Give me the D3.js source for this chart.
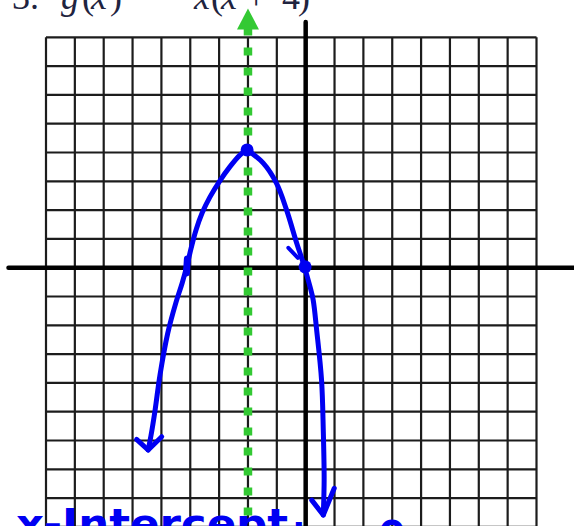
<!DOCTYPE html>
<html>
<head>
<meta charset="utf-8">
<script src="https://cdn.jsdelivr.net/npm/d3@7"></script>
<style>
  html, body { margin: 0; padding: 0; background: #fff; }
  svg { display: block; }
</style>
</head>
<body>
<svg id="chart" width="574" height="526"></svg>
<script>
// Graph-paper grid lines (unit steps)
const gridX = d3.range(-9, 9);
const gridY = d3.range(-9, 9);

// Axis extents in graph units
const xAxisSpan = [-10.3, 9.6];
const yAxisSpan = [-9.5, 8.53];

// Axis of symmetry x = -2
const symmetryX = -2;
const symmetrySpan = [-9.5, 9.0];

// Sketched parabola for g(x) = -x(x + 4), two branches from the vertex
const leftX  = [-2.03, -2.28, -2.63, -2.98, -3.32, -3.59, -3.80, -3.97, -4.11, -4.28, -4.50, -4.78, -5.05, -5.22, -5.36, -5.46];
const leftY  = [ 4.09,  3.91,  3.50,  3.01,  2.45,  1.90,  1.31,  0.68,  0.09, -0.53, -1.22, -2.27, -3.73, -4.95, -5.82, -6.33];
const rightX = [-2.03, -1.47, -1.01, -0.66, -0.31, -0.08, 0.15, 0.26, 0.38, 0.55, 0.61, 0.64, 0.61];
const rightY = [ 4.09,  3.63,  2.93,  2.00,  0.85,  0.15, -0.66, -1.12, -2.16, -3.90, -5.64, -7.37, -8.59];

// Arrowheads at the branch ends: [arm, tip, arm]
const leftArrowX  = [-5.86, -5.46, -4.99];
const leftArrowY  = [-5.96, -6.33, -5.87];
const rightArrowX = [0.21, 0.61, 0.99];
const rightArrowY = [-8.07, -8.59, -7.66];

// Marked points: vertex and the right x-intercept
const dotX = [-2.03, -0.02];
const dotY = [ 4.09,  0.03];
// Left x-intercept mark and the small pen tick on the right branch
const leftMarkX = [-4.10, -4.13];
const leftMarkY = [ 0.30, -0.18];
const tickX = [-0.60, -0.27];
const tickY = [ 0.69,  0.34];

const blue = "#0000f2";
const green = "#33c933";

const svg = d3.select("#chart");
const x = d3.scaleLinear().domain([-9, 8]).range([46, 536.5]);
const y = d3.scaleLinear().domain([-9, 8]).range([526.9, 37.3]);

// Grid
const grid = svg.append("g").attr("stroke", "#1c1c1c").attr("stroke-width", 2.2);
grid.selectAll("line.v").data(gridX).join("line")
  .attr("class", "v")
  .attr("x1", d => x(d)).attr("x2", d => x(d))
  .attr("y1", y(8)).attr("y2", y(-9.5));
grid.selectAll("line.h").data(gridY).join("line")
  .attr("class", "h")
  .attr("x1", x(-9)).attr("x2", x(8))
  .attr("y1", d => y(d)).attr("y2", d => y(d));

// Coordinate axes
svg.append("line")
  .attr("x1", x(xAxisSpan[0])).attr("x2", x(xAxisSpan[1]))
  .attr("y1", y(0)).attr("y2", y(0))
  .attr("stroke", "#000").attr("stroke-width", 4.5).attr("stroke-linecap", "round");
svg.append("line")
  .attr("x1", x(0)).attr("x2", x(0))
  .attr("y1", y(yAxisSpan[1])).attr("y2", y(yAxisSpan[0]))
  .attr("stroke", "#000").attr("stroke-width", 4.5).attr("stroke-linecap", "round");

// Dashed axis of symmetry with arrow on top
const sx = x(symmetryX);
const tipY = y(symmetrySpan[1]);
svg.append("line")
  .attr("x1", sx).attr("x2", sx)
  .attr("y1", tipY + 19).attr("y2", y(symmetrySpan[0]))
  .attr("stroke", green).attr("stroke-width", 8.5)
  .attr("stroke-dasharray", "8,12");
svg.append("path")
  .attr("d", `M${sx},${tipY} L${sx + 11},${tipY + 21} L${sx - 11},${tipY + 21} Z`)
  .attr("fill", green);

// Parabola sketch
const line = d3.line().x(d => x(d[0])).y(d => y(d[1])).curve(d3.curveCatmullRom.alpha(0.5));
const pen = { stroke: blue, "stroke-width": 5, fill: "none", "stroke-linecap": "round", "stroke-linejoin": "round" };
function stroke(path) { Object.entries(pen).forEach(([k, v]) => path.attr(k, v)); return path; }

stroke(svg.append("path").attr("d", line(d3.zip(leftX, leftY))));
stroke(svg.append("path").attr("d", line(d3.zip(rightX, rightY))));

const straight = d3.line().x(d => x(d[0])).y(d => y(d[1]));
stroke(svg.append("path").attr("d", straight(d3.zip(leftArrowX, leftArrowY))));
stroke(svg.append("path").attr("d", straight(d3.zip(rightArrowX, rightArrowY))));
stroke(svg.append("path").attr("d", straight(d3.zip(tickX, tickY)))).attr("stroke-width", 4);
stroke(svg.append("path").attr("d", straight(d3.zip(leftMarkX, leftMarkY)))).attr("stroke-width", 7);

svg.selectAll("circle.pt").data(d3.zip(dotX, dotY)).join("circle")
  .attr("class", "pt")
  .attr("cx", d => x(d[0])).attr("cy", d => y(d[1]))
  .attr("r", 6.5).attr("fill", blue);

// Problem statement: 3.  g(x) = −x(x + 4)
const title = svg.append("g")
  .attr("font-family", "'Liberation Serif', 'DejaVu Serif', serif")
  .attr("font-size", 36).attr("fill", "#1f2440");
const glyphs = [
  { t: "3.", x: 12, it: false },
  { t: "g",  x: 61, it: true },
  { t: "(",  x: 82, it: false },
  { t: "x",  x: 91, it: true },
  { t: ")",  x: 110, it: false },
  { t: "=",  x: 136, it: false, dy: -3 },
  { t: "−",  x: 170, it: false },
  { t: "x",  x: 194, it: true },
  { t: "(",  x: 211, it: false },
  { t: "x",  x: 221, it: true },
  { t: "+",  x: 246, it: false },
  { t: "4",  x: 282, it: false },
  { t: ")",  x: 298, it: false }
];
const tt = title.append("text").attr("y", 9);
glyphs.forEach(g => {
  tt.append("tspan").attr("x", g.x).attr("y", 9 + (g.dy || 0))
    .attr("font-style", g.it ? "italic" : "normal").text(g.t);
});

// Handwritten note
const note = svg.append("g")
  .attr("font-family", "'DejaVu Sans', sans-serif")
  .attr("font-weight", "bold").attr("fill", blue);
note.append("text").attr("x", 16).attr("y", 538).attr("font-size", 40)
  .attr("textLength", 272).attr("lengthAdjust", "spacingAndGlyphs")
  .text("x-Intercept");
note.append("text").attr("x", 292).attr("y", 541).attr("font-size", 34).text(":");
note.append("text").attr("x", 378).attr("y", 550).attr("font-size", 40).text("0");
</script>
</body>
</html>
